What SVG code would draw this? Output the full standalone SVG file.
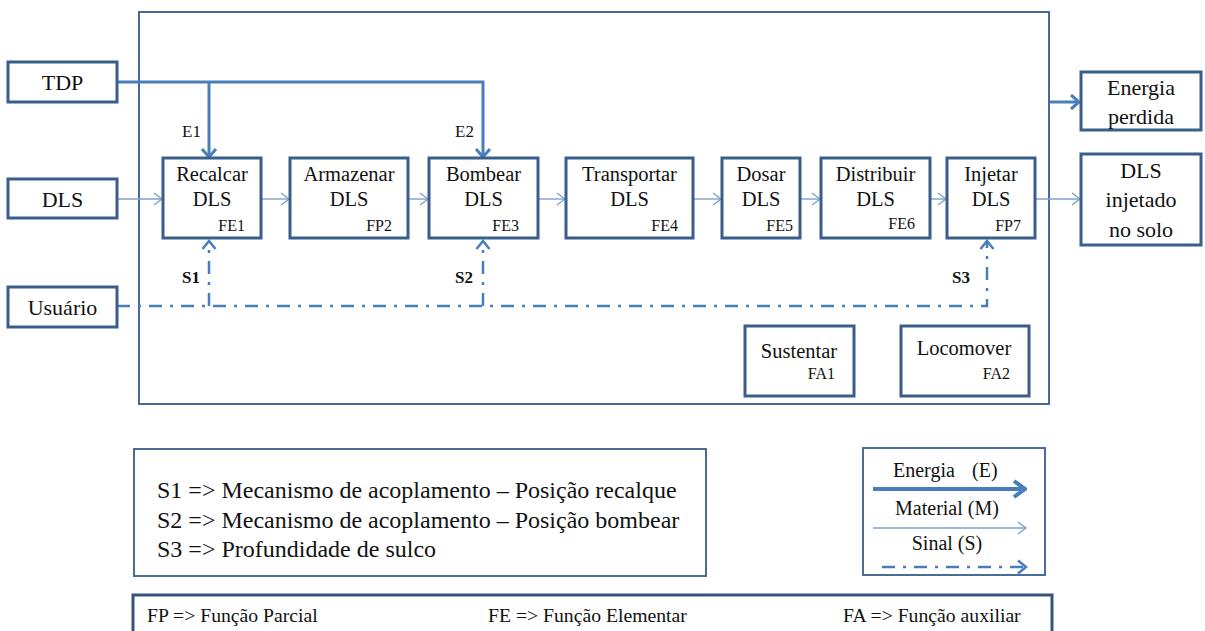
<svg xmlns="http://www.w3.org/2000/svg" width="1205" height="631" viewBox="0 0 1205 631">
<style>
.box{fill:#fff;stroke:#3a5e8c;stroke-width:3}
.frame{fill:none;stroke:#46699a;stroke-width:2}
.n{font-size:20.5px;text-anchor:middle;fill:#111}
.big{font-size:22px;text-anchor:middle;fill:#111}
.lbl{font-size:16px;text-anchor:end;fill:#111}
.e{fill:none;stroke:#4a7ebb;stroke-width:3}
.m{fill:none;stroke:#7fa1cc;stroke-width:1.4}
.s{fill:none;stroke:#4a7ebb;stroke-width:2.5;stroke-dasharray:13 8 3 8}
.sl{font-size:17px;font-weight:bold;fill:#111}
.el{font-size:17px;fill:#111}
.leg{font-size:24px;fill:#111}
.foot{font-size:19.7px;fill:#111}
.lg{font-size:20px;text-anchor:middle;fill:#111}
</style>
<defs>
<marker id="mE" viewBox="-10 -9 12 18" markerWidth="12" markerHeight="18" refX="0" refY="0" orient="auto" markerUnits="userSpaceOnUse">
<path d="M-8,-7 L0,0 L-8,7" fill="none" stroke="#4a7ebb" stroke-width="3"/>
</marker>
<marker id="mEL" viewBox="-14 -10 16 20" markerWidth="16" markerHeight="20" refX="0" refY="0" orient="auto" markerUnits="userSpaceOnUse">
<path d="M-11,-8 L0,0 L-11,8" fill="none" stroke="#4a7ebb" stroke-width="4"/>
</marker>
<marker id="mM" viewBox="-10 -8 12 16" markerWidth="12" markerHeight="16" refX="0" refY="0" orient="auto" markerUnits="userSpaceOnUse">
<path d="M-8,-6 L0,0 L-8,6" fill="none" stroke="#7fa1cc" stroke-width="1.4"/>
</marker>
<marker id="mS" viewBox="-10 -9 12 18" markerWidth="12" markerHeight="18" refX="0" refY="0" orient="auto" markerUnits="userSpaceOnUse">
<path d="M-8,-6.5 L0,0 L-8,6.5" fill="none" stroke="#4a7ebb" stroke-width="2.5" stroke-dasharray="none"/>
</marker>
</defs>
<rect width="1205" height="631" fill="#fff"/>

<g id="system-frame"><rect class="frame" x="139" y="12" width="910" height="392"/></g>

<g id="connectors">
<path class="e" d="M117,82 H483 V157" marker-end="url(#mE)"/>
<path class="e" d="M209,82 V157" marker-end="url(#mE)"/>
<path class="e" d="M1050,102 H1079" marker-end="url(#mE)"/>
<path class="m" d="M117,199 H162" marker-end="url(#mM)"/>
<path class="m" d="M261,199 H289" marker-end="url(#mM)"/>
<path class="m" d="M408,199 H428" marker-end="url(#mM)"/>
<path class="m" d="M538,199 H565" marker-end="url(#mM)"/>
<path class="m" d="M693,199 H721" marker-end="url(#mM)"/>
<path class="m" d="M800,199 H820" marker-end="url(#mM)"/>
<path class="m" d="M930,199 H946" marker-end="url(#mM)"/>
<path class="m" d="M1035,199 H1080" marker-end="url(#mM)"/>
<path class="s" d="M117,306 H987 V241" marker-end="url(#mS)"/>
<path class="s" d="M209,306 V241" marker-end="url(#mS)"/>
<path class="s" d="M483,306 V241" marker-end="url(#mS)"/>
<text class="el" font-family="Liberation Serif" x="182" y="137">E1</text>
<text class="el" font-family="Liberation Serif" x="455" y="137">E2</text>
<text class="sl" font-family="Liberation Serif" x="182" y="283">S1</text>
<text class="sl" font-family="Liberation Serif" x="455" y="283">S2</text>
<text class="sl" font-family="Liberation Serif" x="952" y="283">S3</text>
</g>

<g id="tdp"><rect class="box" x="8" y="62" width="109" height="40"/><text class="big" font-family="Liberation Serif" x="62.5" y="90">TDP</text></g>
<g id="dls-in"><rect class="box" x="8" y="179" width="109" height="39"/><text class="big" font-family="Liberation Serif" x="62.5" y="207">DLS</text></g>
<g id="usuario"><rect class="box" x="8" y="287" width="109" height="40"/><text class="big" font-family="Liberation Serif" x="62.5" y="315">Usuário</text></g>
<g id="energia-perdida"><rect class="box" x="1081" y="72" width="120" height="58"/><text class="big" font-family="Liberation Serif" x="1141" y="95">Energia</text><text class="big" font-family="Liberation Serif" x="1141" y="124">perdida</text></g>
<g id="dls-out"><rect class="box" x="1081" y="154" width="120" height="91"/><text class="big" font-family="Liberation Serif" x="1141" y="178">DLS</text><text class="big" font-family="Liberation Serif" x="1141" y="207">injetado</text><text class="big" font-family="Liberation Serif" x="1141" y="237">no solo</text></g>

<g id="fe1"><rect class="box" x="163" y="158" width="98" height="80"/><text class="n" font-family="Liberation Serif" x="212" y="181">Recalcar</text><text class="n" font-family="Liberation Serif" x="212" y="206">DLS</text><text class="lbl" font-family="Liberation Serif" x="245" y="231">FE1</text></g>
<g id="fp2"><rect class="box" x="290" y="158" width="118" height="80"/><text class="n" font-family="Liberation Serif" x="349" y="181">Armazenar</text><text class="n" font-family="Liberation Serif" x="349" y="206">DLS</text><text class="lbl" font-family="Liberation Serif" x="392" y="231">FP2</text></g>
<g id="fe3"><rect class="box" x="429" y="158" width="109" height="80"/><text class="n" font-family="Liberation Serif" x="483.5" y="181">Bombear</text><text class="n" font-family="Liberation Serif" x="483.5" y="206">DLS</text><text class="lbl" font-family="Liberation Serif" x="519" y="231">FE3</text></g>
<g id="fe4"><rect class="box" x="566" y="158" width="127" height="80"/><text class="n" font-family="Liberation Serif" x="629.5" y="181">Transportar</text><text class="n" font-family="Liberation Serif" x="629.5" y="206">DLS</text><text class="lbl" font-family="Liberation Serif" x="678" y="231">FE4</text></g>
<g id="fe5"><rect class="box" x="722" y="158" width="78" height="80"/><text class="n" font-family="Liberation Serif" x="761" y="181">Dosar</text><text class="n" font-family="Liberation Serif" x="761" y="206">DLS</text><text class="lbl" font-family="Liberation Serif" x="793" y="231">FE5</text></g>
<g id="fe6"><rect class="box" x="821" y="158" width="109" height="80"/><text class="n" font-family="Liberation Serif" x="875.5" y="181">Distribuir</text><text class="n" font-family="Liberation Serif" x="875.5" y="206">DLS</text><text class="lbl" font-family="Liberation Serif" x="915" y="229">FE6</text></g>
<g id="fp7"><rect class="box" x="947" y="158" width="88" height="80"/><text class="n" font-family="Liberation Serif" x="991" y="181">Injetar</text><text class="n" font-family="Liberation Serif" x="991" y="206">DLS</text><text class="lbl" font-family="Liberation Serif" x="1021" y="231">FP7</text></g>

<g id="fa1"><rect class="box" x="745" y="326" width="109" height="70"/><text class="n" font-family="Liberation Serif" x="799" y="358">Sustentar</text><text class="lbl" font-family="Liberation Serif" x="835" y="379">FA1</text></g>
<g id="fa2"><rect class="box" x="901" y="326" width="128" height="70"/><text class="n" font-family="Liberation Serif" x="964" y="355">Locomover</text><text class="lbl" font-family="Liberation Serif" x="1010" y="379">FA2</text></g>

<g id="legend-signals">
<rect fill="#fff" stroke="#4a6d98" stroke-width="2" x="134" y="449" width="572" height="127"/>
<text class="leg" font-family="Liberation Serif" x="157" y="498">S1 =&gt; Mecanismo de acoplamento – Posição recalque</text>
<text class="leg" font-family="Liberation Serif" x="157" y="528">S2 =&gt; Mecanismo de acoplamento – Posição bombear</text>
<text class="leg" font-family="Liberation Serif" x="157" y="557">S3 =&gt; Profundidade de sulco</text>
</g>

<g id="legend-flows">
<rect fill="#fff" stroke="#4a6d98" stroke-width="2" x="863" y="448" width="182" height="127"/>
<text font-family="Liberation Serif" font-size="20" fill="#111" y="477"><tspan x="893">Energia</tspan><tspan x="972">(E)</tspan></text>
<path d="M873,489 H1025" fill="none" stroke="#4a7ebb" stroke-width="4" marker-end="url(#mEL)"/>
<text class="lg" font-family="Liberation Serif" x="947" y="515">Material (M)</text>
<path class="m" d="M873,528 H1026" marker-end="url(#mM)"/>
<text class="lg" font-family="Liberation Serif" x="947" y="550">Sinal (S)</text>
<path class="s" d="M882,567 H1026" marker-end="url(#mS)"/>
</g>

<g id="legend-functions">
<rect fill="#fff" stroke="#34547e" stroke-width="3" x="133" y="595" width="919" height="60"/>
<text class="foot" font-family="Liberation Serif" x="147" y="622">FP =&gt; Função Parcial</text>
<text class="foot" font-family="Liberation Serif" x="488" y="622">FE =&gt; Função Elementar</text>
<text class="foot" font-family="Liberation Serif" x="843" y="622">FA =&gt; Função auxiliar</text>
</g>
</svg>
